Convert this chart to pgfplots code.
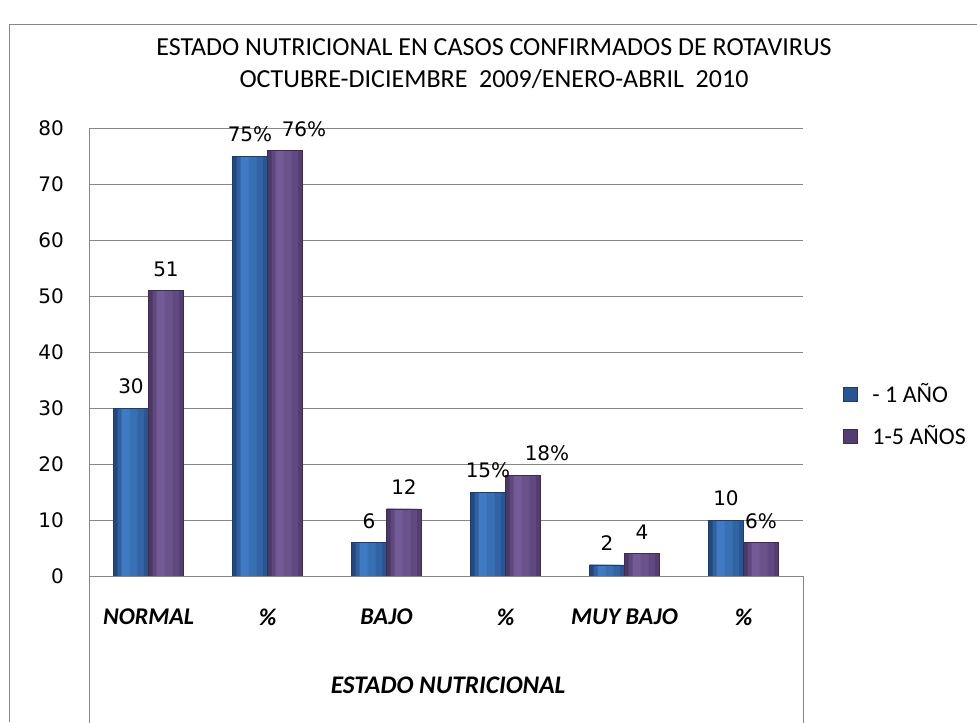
\documentclass[border=0pt]{standalone}
\usepackage{pgfplots}
\usepackage{pgfplotstable}
\pgfplotsset{compat=1.18}
\usepackage{fontspec}
\setmainfont{Carlito}
\newfontfamily\dv{DejaVu Sans}
\definecolor{frame}{RGB}{134,134,134}
\definecolor{gridg}{RGB}{134,134,134}
\definecolor{blueR}{RGB}{40,86,146}
\definecolor{blueNR}{RGB}{50,100,165}
\definecolor{blueN}{RGB}{56,112,180}
\definecolor{blueM}{RGB}{64,122,194}
\definecolor{blueLM}{RGB}{48,96,160}
\definecolor{blueL}{RGB}{34,72,125}
\definecolor{blueD}{RGB}{30,60,105}
\definecolor{purR}{RGB}{84,62,112}
\definecolor{purNR}{RGB}{96,72,128}
\definecolor{purN}{RGB}{106,82,138}
\definecolor{purM}{RGB}{116,90,150}
\definecolor{purLM}{RGB}{96,72,126}
\definecolor{purL}{RGB}{76,56,100}
\definecolor{purD}{RGB}{62,45,82}

% x = category, a = "- 1 AÑO", b = "1-5 AÑOS", la/lb = printed labels
\pgfplotstableread{
x a  b  la     lb
0 30 51 30     51
1 75 76 75\%   {\hspace*{28.5pt}76\%}
2 6  12 6      12
3 15 18 15\%   {\hspace*{36pt}18\%}
4 2  4  2      4
5 10 6  10     6\%
}\data

\pgfplotsset{
  ybar legend/.style={legend image code/.code={
    \draw[##1] (0pt,-5.25pt) rectangle (10.5pt,5.25pt);}},
  % narrower strips laid over a bar give it the rounded look of the original
  strip/.style n args={3}{forget plot,draw=none,fill=#3,bar width=#1,bar shift=#2},
}

\begin{document}
\begin{tikzpicture}
% picture measured in pixels of the reference, 1px = 0.75pt
\path[use as bounding box] (0pt,0pt) rectangle (732.75pt,541.5pt);
\draw[frame,line width=0.75pt] (6.75pt,0pt) -- (6.75pt,522.75pt) -- (735pt,522.75pt);
\node[align=center,font=\fontsize{19.5}{24}\selectfont] at (370.5pt,493.5pt)
  {ESTADO NUTRICIONAL EN CASOS CONFIRMADOS DE ROTAVIRUS\\
   OCTUBRE-DICIEMBRE\ \ 2009/ENERO-ABRIL\ \ 2010};
\begin{axis}[at={(66.75pt,109.5pt)},anchor=south west,scale only axis,
  width=535.5pt,height=336pt,
  xmin=-0.5,xmax=5.5,ymin=0,ymax=80,
  ybar=0pt,bar width=26.25pt,
  ytick={0,10,...,80},xtick={0,...,5},
  xticklabels={NORMAL,\%,BAJO,\%,MUY BAJO,\%},
  ymajorgrids,grid style={gridg,line width=0.75pt},
  axis line style={draw=none},major tick length=0pt,
  clip=false,
  /pgf/number format/assume math mode=true,
  yticklabel style={font=\dv\fontsize{15}{17}\selectfont,anchor=east,inner sep=0pt,xshift=-18.75pt},
  xticklabel style={font=\bfseries\itshape\fontsize{18}{20}\selectfont,anchor=center,yshift=-30.75pt},
  xlabel={ESTADO NUTRICIONAL},
  every axis x label/.style={at={(rel axis cs:0.503,-0.2433)},anchor=center,
    font=\bfseries\itshape\fontsize{19}{21}\selectfont},
  every node near coord/.append style={font=\dv\fontsize{15}{17}\selectfont,anchor=south,yshift=7pt},
  legend style={draw=none,fill=none,at={(1.056,0.359)},anchor=west,inner sep=0pt,
    row sep=12pt,font=\fontsize{18}{20}\selectfont,
    /tikz/every odd column/.append style={column sep=9pt}},
  legend cell align=left,
]
% - 1 AÑO
\addplot[draw=blueD,line width=0.4pt,fill=blueR,bar width=26.25pt,bar shift=-13.125pt,
  point meta=explicit symbolic,nodes near coords] table[x=x,y=a,meta=la]{\data};
\addplot[strip={23pt}{-14.75pt}{blueNR}] table[x=x,y=a]{\data};
\addplot[strip={18pt}{-17.25pt}{blueN}] table[x=x,y=a]{\data};
\addplot[strip={12pt}{-20.25pt}{blueM}] table[x=x,y=a]{\data};
\addplot[strip={6pt}{-23.25pt}{blueLM}] table[x=x,y=a]{\data};
\addplot[strip={3pt}{-24.75pt}{blueL}] table[x=x,y=a]{\data};
\addplot[forget plot,draw=blueD,line width=0.4pt,fill=none,bar width=26.25pt,bar shift=-13.125pt]
  table[x=x,y=a]{\data};
% 1-5 AÑOS
\addplot[draw=purD,line width=0.4pt,fill=purR,bar width=26.25pt,bar shift=13.125pt,
  point meta=explicit symbolic,nodes near coords] table[x=x,y=b,meta=lb]{\data};
\addplot[strip={23pt}{11.5pt}{purNR}] table[x=x,y=b]{\data};
\addplot[strip={18pt}{9pt}{purN}] table[x=x,y=b]{\data};
\addplot[strip={12pt}{6pt}{purM}] table[x=x,y=b]{\data};
\addplot[strip={6pt}{3pt}{purLM}] table[x=x,y=b]{\data};
\addplot[strip={3pt}{1.5pt}{purL}] table[x=x,y=b]{\data};
\addplot[forget plot,draw=purD,line width=0.4pt,fill=none,bar width=26.25pt,bar shift=13.125pt]
  table[x=x,y=b]{\data};
\legend{- 1 AÑO,1-5 AÑOS}
\draw[gridg,line width=0.75pt] (axis cs:-0.5,80) -- (axis cs:-0.5,-27);
\draw[gridg,line width=0.75pt] (axis cs:-0.5,0) -- (axis cs:5.5,0);
\draw[gridg,line width=0.75pt] (axis cs:5.5,0) -- (axis cs:5.5,-27);
\end{axis}
\end{tikzpicture}
\end{document}
